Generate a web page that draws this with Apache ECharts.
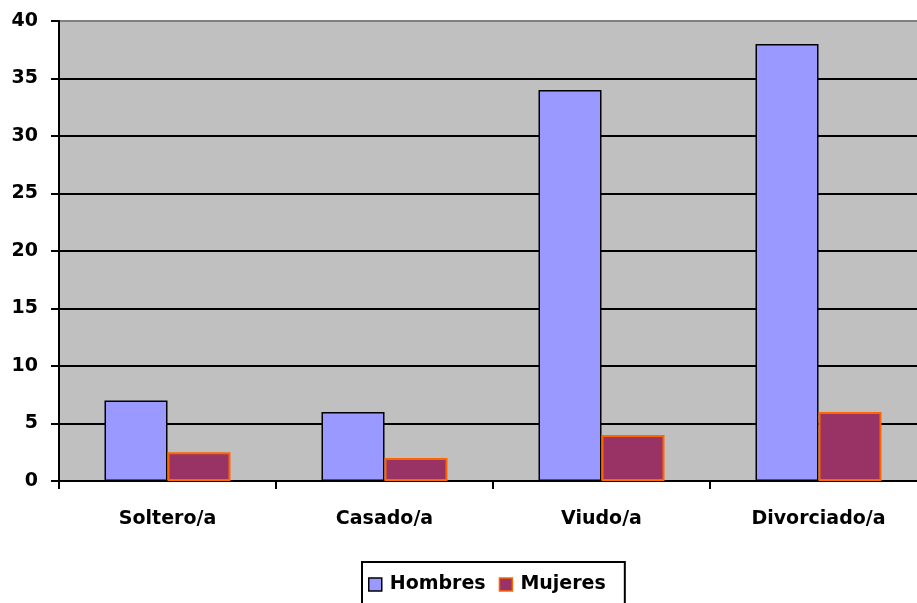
<!DOCTYPE html>
<html>
<head>
<meta charset="utf-8">
<script src="https://cdn.jsdelivr.net/npm/echarts@6/dist/echarts.min.js"></script>
<style>
	html, body { margin: 0; padding: 0; background: #fff; }
	#main { width: 917px; height: 603px; }
</style>
</head>
<body>
<div id="main"></div>
<script>
// datos del gráfico
var categorias = ['Soltero/a', 'Casado/a', 'Viudo/a', 'Divorciado/a'];
var hombres = [7, 6, 34, 38];
var mujeres = [2.5, 2, 4, 6];

var fuente = { fontFamily: 'DejaVu Sans', fontWeight: 'bold', fontSize: 19, color: '#000' };

var myChart = echarts.init(document.getElementById('main'));

var option = {
	animation: false,
	grid: {
		left: 59,
		top: 21,
		bottom: 122,
		width: 868,
		outerBoundsMode: 'none',
		show: true,
		backgroundColor: '#C0C0C0',
		borderColor: '#808080',
		borderWidth: 2
	},
	legend: {
		left: 362,
		top: 562,
		padding: [13, 19, 12, 6],
		borderColor: '#000',
		borderWidth: 2,
		icon: 'rect',
		itemWidth: 13,
		itemHeight: 13,
		itemGap: 13,
		textStyle: Object.assign({ padding: [0, 0, 0, 3] }, fuente),
		data: [
			{ name: 'Hombres', itemStyle: { color: '#9999FF', borderColor: '#000', borderWidth: 1.5 } },
			{ name: 'Mujeres', itemStyle: { color: '#993366', borderColor: '#FF6600', borderWidth: 1.5 } }
		]
	},
	xAxis: {
		type: 'category',
		data: categorias,
		axisLine: { lineStyle: { color: '#000', width: 2 } },
		axisTick: { show: true, length: 8, lineStyle: { color: '#000', width: 2 } },
		axisLabel: Object.assign({ margin: 29 }, fuente),
		splitLine: { show: false }
	},
	yAxis: {
		type: 'value',
		min: 0,
		max: 40,
		interval: 5,
		axisLine: { show: true, lineStyle: { color: '#000', width: 2 } },
		axisTick: { show: true, length: 8, lineStyle: { color: '#000', width: 2 } },
		axisLabel: Object.assign({ margin: 21 }, fuente),
		splitLine: { show: true, showMaxLine: false, lineStyle: { color: '#000', width: 2 } }
	},
	series: [
		{
			name: 'Hombres',
			type: 'bar',
			data: hombres,
			barWidth: 63,
			barGap: '0%',
			itemStyle: { color: '#9999FF', borderColor: '#000', borderWidth: 1.5 }
		},
		{
			name: 'Mujeres',
			type: 'bar',
			data: mujeres,
			barWidth: 63,
			barGap: '0%',
			itemStyle: { color: '#993366', borderColor: '#FF6600', borderWidth: 2 }
		}
	]
};

myChart.setOption(option);
</script>
</body>
</html>
